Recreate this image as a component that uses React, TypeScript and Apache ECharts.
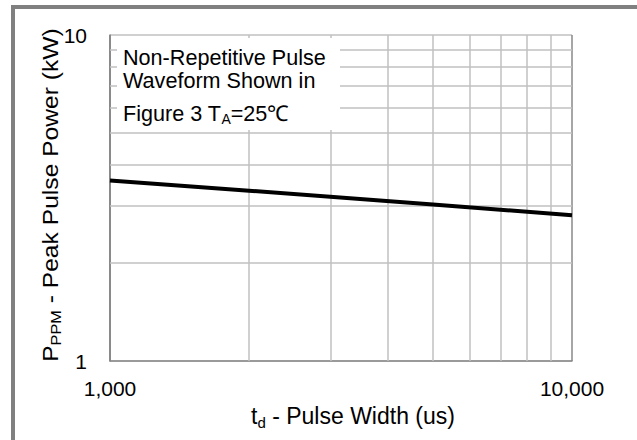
import React, { useEffect, useRef } from 'react';
import * as echarts from 'echarts';

const pulseWidthUs = [1000, 2000, 5000, 10000];
const peakPowerKW = [3.58, 3.33, 3.02, 2.8];
const xMinorGrid = [2000, 3000, 4000, 5000, 6000, 7000, 8000, 9000];
const yMinorGrid = [2, 3, 4, 5, 6, 7, 8, 9];
const noteLines = ['Non-Repetitive Pulse', 'Waveform Shown in'];
const noteLast = '{m|Figure 3 T}{s|A}{m|=25℃}';
const xTitle = '{m|t}{s|d}{m| - Pulse Width (us)}';
const yTitle = '{m|P}{s|PPM}{m| - Peak Pulse Power (kW)}';

export default function App() {
  const ref = useRef<HTMLDivElement>(null);
  useEffect(() => {
    const chart = echarts.init(ref.current as HTMLDivElement, null, { renderer: 'svg' });
    const font = '"Liberation Sans", Arial, sans-serif';
    const fs = 21;
    const mkRich = (main: number, sub: number, lh: number) => ({
      m: { fontSize: main, lineHeight: lh, fontFamily: font, color: '#000' },
      s: { fontSize: sub, lineHeight: sub, verticalAlign: 'bottom', fontFamily: font, color: '#000' },
    });
    const option: any = {
      animation: false,
      backgroundColor: '#fff',
      grid: { left: 110, top: 35, width: 462, height: 326, containLabel: false },
      xAxis: {
        type: 'log',
        logBase: 10,
        min: 1000,
        max: 10000,
        axisLine: { show: true, lineStyle: { color: '#888', width: 1.5 } },
        axisTick: { show: false },
        axisLabel: {
          fontSize: fs,
          fontFamily: font,
          color: '#000',
          margin: 17,
          formatter: (v: number) => v.toLocaleString('en-US'),
        },
        splitLine: { show: true, lineStyle: { color: '#888', width: 1.5 } },
      },
      yAxis: {
        type: 'log',
        logBase: 10,
        min: 1,
        max: 10,
        axisLine: { show: true, lineStyle: { color: '#888', width: 1.5 } },
        axisTick: { show: false },
        axisLabel: {
          fontSize: fs,
          fontFamily: font,
          color: '#000',
          margin: 23,
          formatter: (v: number) => String(v),
        },
        splitLine: { show: true, lineStyle: { color: '#c0c0c0', width: 1.5 } },
      },
      series: [
        {
          type: 'line',
          z: 1,
          data: [],
          silent: true,
          markLine: {
            silent: true,
            symbol: ['none', 'none'],
            label: { show: false },
            lineStyle: { color: '#c0c0c0', width: 1.5, type: 'solid' },
            data: [
              ...xMinorGrid.map((v) => ({ xAxis: v })),
              ...yMinorGrid.map((v) => ({ yAxis: v })),
            ],
          },
        },
        {
          type: 'line',
          z: 5,
          data: pulseWidthUs.map((x, i) => [x, peakPowerKW[i]]),
          symbol: 'none',
          lineStyle: { color: '#000', width: 4 },
        },
      ],
      graphic: [
        {
          type: 'rect',
          z: 100,
          shape: { x: 13, y: 7, width: 700, height: 500 },
          style: { fill: 'none', stroke: '#808080', lineWidth: 4 },
        },
        {
          type: 'rect',
          z: 100,
          shape: { x: 117, y: 38, width: 223, height: 92 },
          style: { fill: '#fff' },
        },
        {
          type: 'text',
          z: 101,
          x: 123,
          y: 57.7,
          style: { text: noteLines[0], fontSize: 21.6, fontFamily: font, fill: '#000', verticalAlign: 'middle' },
        },
        {
          type: 'text',
          z: 101,
          x: 123,
          y: 80.9,
          style: { text: noteLines[1], fontSize: 21.6, fontFamily: font, fill: '#000', verticalAlign: 'middle' },
        },
        {
          type: 'text',
          z: 101,
          x: 123,
          y: 113,
          style: { text: noteLast, rich: mkRich(21.6, 14, 26), fontSize: 21.6, fontFamily: font, fill: '#000', verticalAlign: 'middle' },
        },
        {
          type: 'text',
          z: 101,
          x: 353,
          y: 416,
          style: { text: xTitle, rich: mkRich(23, 15, 28), fontSize: 23, fontFamily: font, fill: '#000', align: 'center', verticalAlign: 'middle' },
        },
        {
          type: 'text',
          z: 101,
          x: 50,
          y: 195,
          rotation: Math.PI / 2,
          scaleX: 1.12,
          style: { text: yTitle, rich: mkRich(22, 14.5, 27), fontSize: 22, fontFamily: font, fill: '#000', align: 'center', verticalAlign: 'middle' },
        },
      ],
    };
    chart.setOption(option);
    return () => chart.dispose();
  }, []);
  return (
    <div
      ref={ref}
      style={{ position: 'fixed', left: 0, top: 0, width: 637, height: 440, background: '#fff' }}
    />
  );
}
